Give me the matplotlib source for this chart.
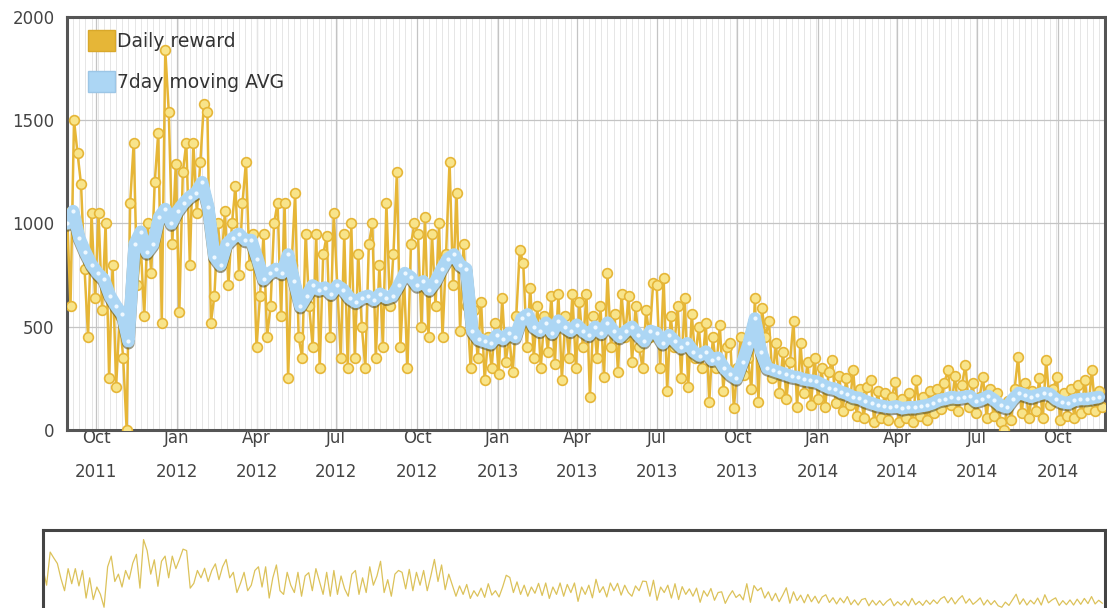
import matplotlib
matplotlib.use("Agg")
import numpy as np
import pandas as pd
import matplotlib.pyplot as plt
import matplotlib.dates as mdates
import matplotlib.patheffects as pe
from matplotlib.patches import Patch

# daily reward, one reading every 4 days from 2011-08-29
daily_reward = [
    1050, 600, 1500, 1340, 1190, 780, 450, 1050, 640,
    1050, 580, 1000, 250, 800, 210, 550, 350, 0,
    1100, 1390, 700, 900, 550, 1000, 760, 1200, 1440, 520, 1840, 1540, 900, 1290,
    570, 1250, 1390, 800, 1390, 1050, 1300, 1580, 1540, 520, 650, 1000, 800, 1060, 700,
    1000, 1180, 750, 1100, 1300, 800, 950, 400, 650, 950, 450, 600, 1000, 1100, 550,
    1100, 250, 800, 1150, 450, 350, 950, 600, 400, 950, 300, 850, 940, 450, 1050,
    700, 350, 950, 300, 1000, 350, 850, 500, 300, 900, 1000, 350, 800, 400, 1100, 600,
    850, 1250, 400, 750, 300, 900, 1000,
    950, 500, 1030, 450, 950, 600, 1000, 450, 850, 1300, 700, 1150, 480, 900, 600,
    300, 580, 350, 620, 240, 450, 300, 520, 270, 640, 330, 450, 280, 550, 870, 810,
    400, 690, 350, 600, 300, 550, 380, 650, 320, 660, 240, 550, 350, 660,
    300, 620, 400, 660, 160, 550, 350, 600, 256, 760, 400, 560, 280, 660, 450, 650,
    330, 600, 400, 300, 580, 450, 710,
    700, 300, 735, 190, 550, 400, 600, 250, 640, 210, 560, 350, 500, 300, 520, 135,
    450, 300, 510, 190, 400, 420, 106,
    300, 450, 266, 350, 200, 640, 135, 590, 450, 530, 250, 420, 180, 380, 150, 330,
    530, 110, 420, 180, 330, 120, 350,
    150, 300, 110, 280, 340, 130, 260, 90, 250, 120, 290, 70, 200, 60, 210, 240,
    40, 190, 60, 180, 50, 160, 232,
    40, 150, 60, 180, 40, 242, 70, 160, 50, 190, 80, 200, 100, 230, 290, 120,
    260, 90, 220, 315, 110, 230, 80,
    160, 256, 60, 200, 70, 180, 40, 0, 140, 50, 200, 355, 80, 230, 60, 190, 90, 250,
    60, 340, 120, 200, 256, 50, 180, 70, 200, 60, 220, 80, 240, 100, 290, 90, 190, 110,
]

# 7 day moving average, read weekly from 2011-08-29
moving_avg = [
    1000, 1060, 930, 860, 800, 760, 730, 650, 600, 560,
    430, 900, 960, 860, 900, 1030, 1070, 1000, 1060, 1100,
    1130, 1150, 1200, 1080, 840, 800, 900, 930, 950, 920,
    920, 830, 730, 760, 780, 760, 850, 720, 600, 650,
    700, 680, 690, 660, 700, 680, 640, 620, 640, 650,
    630, 660, 640, 650, 700, 760, 740, 700, 720, 680,
    720, 780, 830, 850, 800, 780, 480, 440, 430, 420,
    460, 440, 470, 450, 540, 560, 500, 480, 520, 470,
    530, 500, 480, 510, 480, 460, 500, 470, 520, 480,
    450, 480, 500, 460, 430, 480, 470, 420, 460, 430,
    400, 420, 380, 360, 380, 340, 350, 300, 270, 250,
    330, 420, 540, 380, 300, 290, 280, 270, 260, 255,
    245, 240, 235, 220, 205, 200, 185, 175, 160, 155,
    140, 130, 120, 115, 110, 115, 105, 110, 110, 115,
    120, 130, 145, 150, 160, 155, 160, 165, 140, 150,
    165, 145, 120, 110, 150, 180, 170, 160, 170, 180,
    175, 150, 135, 130, 145, 150, 150, 155, 160,
]

legend_labels = ["Daily reward", "7day moving AVG"]

daily_dates = pd.date_range("2011-08-29", periods=len(daily_reward), freq="4D")
avg_dates = pd.date_range("2011-08-29", periods=len(moving_avg), freq="7D")
x_start = pd.Timestamp("2011-08-29")
x_end = pd.Timestamp("2014-11-24")

gold = "#E6B637"
gold_face = "#F8E48A"
blue = "#ACD6F4"
text_col = "#444444"
spine_col = "#555555"

fig = plt.figure(figsize=(11.07, 6.08), dpi=100)
ax = fig.add_axes([67 / 1107, 1 - 430 / 608, 1038 / 1107, 413 / 608])

ax.plot(daily_dates, daily_reward, color=gold, lw=1.8, marker="o", ms=7,
        mfc=gold_face, mec=gold, mew=1.2, zorder=3)
ax.plot(avg_dates, moving_avg, color=blue, lw=9, solid_capstyle="round", zorder=4,
        path_effects=[pe.SimpleLineShadow(offset=(0, -1.5), shadow_color="#4a4a2a", alpha=0.55),
                      pe.Normal()])
ax.plot(avg_dates, moving_avg, ls="none", marker="o", ms=3, mfc="#EEF8FF", mec="none", zorder=5)

ax.set_xlim(x_start, x_end)
ax.set_ylim(0, 2000)
ax.set_yticks([0, 500, 1000, 1500, 2000])

ax.xaxis.set_major_locator(mdates.MonthLocator(bymonth=[1, 4, 7, 10]))
ax.xaxis.set_major_formatter(mdates.DateFormatter("%b\n%Y"))
ax.xaxis.set_minor_locator(mdates.WeekdayLocator(byweekday=mdates.MO))
ax.grid(which="major", color="#c4c4c4", lw=0.9, zorder=0)
ax.grid(which="minor", axis="x", color="#e6e6e6", lw=0.7, zorder=0)
ax.set_axisbelow(True)
ax.tick_params(which="both", length=0, labelsize=12, labelcolor=text_col)
ax.tick_params(axis="y", pad=9)
ax.tick_params(axis="x", pad=-1)
for s in ax.spines.values():
    s.set_color(spine_col)
    s.set_linewidth(2.2)

handles = [Patch(facecolor=gold, edgecolor="#d9a82a"), Patch(facecolor=blue, edgecolor="#9cc6e6")]
ax.legend(handles, legend_labels, loc="upper left", bbox_to_anchor=(0.02, 0.968),
          frameon=False, fontsize=13.5, handlelength=1.45, handleheight=1.3,
          handletextpad=0.1, labelspacing=1.1, borderpad=0, borderaxespad=0,
          labelcolor="#333333")

# navigator strip
nav = fig.add_axes([43 / 1107, 0.0, 1062 / 1107, 78 / 608])
nav.plot(daily_dates, daily_reward, color="#DCC25A", lw=0.9)
nav.set_xlim(x_start, x_end)
nav.set_ylim(-20, 2100)
nav.set_xticks([])
nav.set_yticks([])
for name, s in nav.spines.items():
    s.set_color("#444444")
    s.set_linewidth(2.2)
nav.spines["bottom"].set_visible(False)

fig.canvas.draw()
for lab in ax.get_xticklabels():
    lab.set_linespacing(2.2)

fig.savefig("out.png", dpi=100)
